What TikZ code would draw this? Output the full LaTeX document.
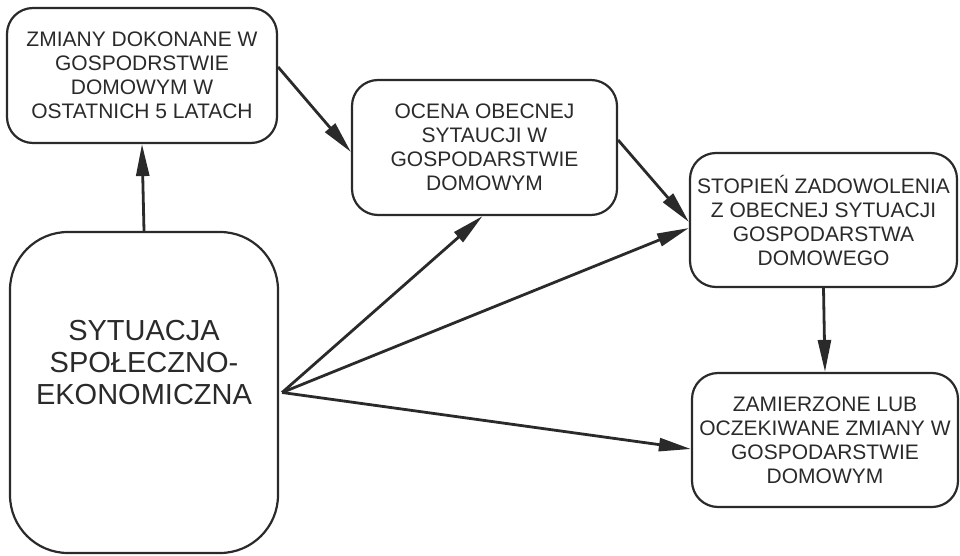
\documentclass[tikz,border=0pt]{standalone}
\usepackage{fontspec}
\setmainfont{Liberation Sans}
\usetikzlibrary{arrows.meta,calc}
\definecolor{ink}{HTML}{2A2A2A}
\begin{document}
\begin{tikzpicture}[x=1pt,y=-1pt,
  box/.style={draw=ink, line width=2.2pt, rounded corners=26pt, align=center, text=ink,
    inner sep=0pt, font=\fontsize{21}{24}\selectfont},
  bigbox/.style={draw=ink, line width=2.2pt, rounded corners=58pt, inner sep=0pt},
  bigtext/.style={align=center, text=ink, inner sep=0pt, font=\fontsize{29}{32}\selectfont},
  arr/.style={draw=ink, line width=2.8pt, -{Triangle[length=32pt,width=13pt]}}]
\useasboundingbox (0,0) rectangle (960,556);
\node[box, minimum width=270pt, minimum height=135pt] (A) at (142,75.5)
  {ZMIANY DOKONANE W\\GOSPODRSTWIE\\DOMOWYM W\\OSTATNICH 5 LATACH};
\node[box, minimum width=265pt, minimum height=135pt] (B) at (484.5,147.5)
  {OCENA OBECNEJ\\SYTAUCJI W\\GOSPODARSTWIE\\DOMOWYM};
\node[box, minimum width=267pt, minimum height=134pt] (C) at (823.5,220)
  {STOPIEŃ ZADOWOLENIA\\Z OBECNEJ SYTUACJI\\GOSPODARSTWA\\DOMOWEGO};
\node[box, minimum width=266pt, minimum height=134pt] (E) at (825,440)
  {ZAMIERZONE LUB\\OCZEKIWANE ZMIANY W\\GOSPODARSTWIE\\DOMOWYM};
\node[bigbox, minimum width=268pt, minimum height=321pt] (D) at (144,392.5) {};
\node[bigtext] (Dt) at (144,363) {SYTUACJA\\SPOŁECZNO-\\EKONOMICZNA};
\draw[arr] (D.north) -- (A.south);
\draw[arr] ([yshift=8.5pt]A.east) -- ([yshift=-4.5pt]B.west);
\draw[arr] ([yshift=7.5pt]B.east) -- ([yshift=-2pt]C.west);
\draw[arr] ([xshift=3pt]D.east) -- ([xshift=-2pt]B.south);
\draw[arr] ([xshift=3pt]D.east) -- ([yshift=-8pt]C.west);
\draw[arr] ([xshift=3pt]D.east) -- ([yshift=-9pt]E.west);
\draw[arr] (C.south) -- (E.north);
\end{tikzpicture}
\end{document}
